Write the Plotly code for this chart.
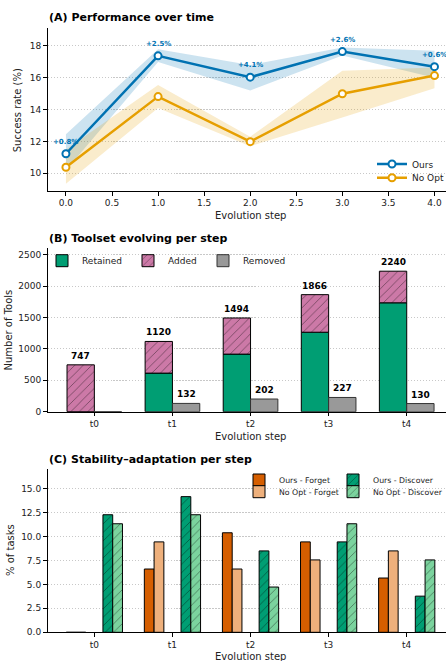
import plotly.graph_objects as go

# ---------------- data ----------------
steps = [0, 1, 2, 3, 4]
ours = [11.23, 17.38, 16.04, 17.65, 16.70]
ours_lo = [10.2, 17.0, 15.2, 17.4, 16.0]
ours_hi = [12.45, 17.8, 16.8, 17.9, 17.7]
noopt = [10.38, 14.82, 11.99, 15.0, 16.14]
noopt_lo = [9.35, 14.1, 11.7, 13.5, 15.35]
noopt_hi = [11.5, 15.55, 12.3, 16.45, 16.65]
gains = ["+0.8%", "+2.5%", "+4.1%", "+2.6%", "+0.6%"]

cats = ["t0", "t1", "t2", "t3", "t4"]
retained = [0, 615, 918, 1267, 1736]
added = [747, 505, 576, 599, 504]
removed = [0, 132, 202, 227, 130]

ours_forget = [0, 6.60, 10.38, 9.43, 5.66]
noopt_forget = [0, 9.43, 6.60, 7.55, 8.49]
ours_discover = [12.26, 14.15, 8.49, 9.43, 3.77]
noopt_discover = [11.32, 12.26, 4.72, 11.32, 7.55]

# ---------------- styling ----------------
W, H = 446, 661
FONT = "DejaVu Sans"
BLUE, ORANGE = "#0072B2", "#E69F00"
GREEN, PINK, GREY = "#009E73", "#CC79A7", "#999999"
DORANGE, LORANGE, LGREEN = "#D55E00", "#EEB07C", "#7BD39E"


def px(p):
    return p / W


def py(p):
    return 1 - p / H


fig = go.Figure()
legend_boxes = {}


def legend_slot(key, text_x, center_y, size=9):
    """One legend box per entry so entries can sit closer than Plotly's row height."""
    legend_boxes[key] = dict(x=px(text_x - 40), y=py(center_y), xanchor="left",
                             yanchor="middle", bgcolor="rgba(0,0,0,0)",
                             borderwidth=0,
                             font=dict(family=FONT, size=size, color="#222222"))
    return key


# ---- (A) performance over time ----
for lo, hi, col in [(ours_lo, ours_hi, "rgba(0,114,178,0.2)"),
                    (noopt_lo, noopt_hi, "rgba(230,159,0,0.2)")]:
    fig.add_trace(go.Scatter(
        x=steps + steps[::-1], y=hi + lo[::-1], fill="toself", fillcolor=col,
        line=dict(width=0), mode="lines", showlegend=False, hoverinfo="skip",
        xaxis="x", yaxis="y"))

for name, vals, col, leg in [("Ours", ours, BLUE, legend_slot("legend", 412, 164)),
                             ("No Opt", noopt, ORANGE, legend_slot("legend2", 412, 177.7))]:
    fig.add_trace(go.Scatter(
        x=steps, y=vals, name=name, mode="lines+markers",
        line=dict(color=col, width=2.5),
        marker=dict(symbol="circle", size=7, color="white",
                    line=dict(color=col, width=2)),
        xaxis="x", yaxis="y", legend=leg))

# ---- (B) toolset evolving ----
idx = list(range(len(cats)))
fig.add_trace(go.Bar(
    x=idx, y=retained, name="Retained", offset=-0.35, width=0.35,
    marker=dict(color=GREEN, line=dict(color="black", width=1)),
    xaxis="x2", yaxis="y2", legend=legend_slot("legend3", 82, 260.7)))
fig.add_trace(go.Bar(
    x=idx, y=added, base=retained, name="Added", offset=-0.35, width=0.35,
    marker=dict(color=PINK, line=dict(color="black", width=1),
                pattern=dict(shape="/", fgcolor="black", size=6, solidity=0.12)),
    xaxis="x2", yaxis="y2", legend=legend_slot("legend4", 168, 260.7)))
fig.add_trace(go.Bar(
    x=idx, y=removed, name="Removed", offset=0, width=0.35,
    marker=dict(color=GREY, line=dict(color="#333333", width=1)),
    xaxis="x2", yaxis="y2", legend=legend_slot("legend5", 243, 260.7)))

# ---- (C) stability-adaptation ----
series_c = [
    ("Ours - Forget", ours_forget, DORANGE, None, -0.36, 279, 480),
    ("No Opt - Forget", noopt_forget, LORANGE, None, -0.235, 279, 491.7),
    ("Ours - Discover", ours_discover, GREEN, "/", 0.11, 373, 480),
    ("No Opt - Discover", noopt_discover, LGREEN, "/", 0.235, 373, 491.7),
]
for k, (name, vals, col, hatch, off, lx, ly) in enumerate(series_c):
    mk = dict(color=col, line=dict(color="black", width=1))
    if hatch:
        mk["pattern"] = dict(shape=hatch, fgcolor="black", size=6, solidity=0.12)
    fig.add_trace(go.Bar(
        x=idx, y=vals, name=name, offset=off, width=0.125, marker=mk,
        xaxis="x3", yaxis="y3",
        legend=legend_slot("legend%d" % (6 + k), lx, ly, size=7.8)))

# ---------------- axes ----------------
axis_common = dict(showline=True, linecolor="black", linewidth=1, ticks="outside",
                   ticklen=3.5, tickwidth=1, tickcolor="black", zeroline=False,
                   tickfont=dict(family=FONT, size=9, color="#222222"))
ygrid = dict(showgrid=True, gridcolor="#c8c8c8", gridwidth=0.8,
             griddash="1.5px,1.5px")

xdom = [px(47.5), 1]
fig.update_layout(
    xaxis=dict(domain=xdom, range=[-0.2, 4.125], dtick=0.5, tickformat=".1f",
               showgrid=False, anchor="y", **axis_common),
    yaxis=dict(domain=[py(191), py(28)], range=[8.89, 19.13], dtick=2,
               anchor="x", **ygrid, **axis_common),
    xaxis2=dict(domain=xdom, range=[-0.6, 4.503], tickvals=idx, ticktext=cats,
                showgrid=False, anchor="y2", **axis_common),
    yaxis2=dict(domain=[py(411.7), py(248.3)], range=[0, 2605], dtick=500,
                anchor="x2", **ygrid, **axis_common),
    xaxis3=dict(domain=xdom, range=[-0.6, 4.503], tickvals=idx, ticktext=cats,
                showgrid=False, anchor="y3", **axis_common),
    yaxis3=dict(domain=[py(632.3), py(469.3)], range=[0, 17], dtick=2.5,
                tickformat=".1f", anchor="x3", **ygrid, **axis_common),
)
fig.update_layout(**legend_boxes)

# ---------------- text ----------------
ann = []
title_font = dict(family=FONT, size=11, color="black")
for text, yp in [("(A) Performance over time", 17.5),
                 ("(B) Toolset evolving per step", 238.3),
                 ("(C) Stability\u2013adaptation per step", 459)]:
    ann.append(dict(text="<b>" + text + "</b>", x=px(47), y=py(yp), xref="paper",
                    yref="paper", xanchor="left", yanchor="middle",
                    showarrow=False, font=title_font))

lab_font = dict(family=FONT, size=10, color="#222222")
for yp in [215.5, 436.7, 656.7]:
    ann.append(dict(text="Evolution step", x=px(250.5), y=py(yp), xref="paper",
                    yref="paper", xanchor="center", yanchor="middle",
                    showarrow=False, font=lab_font))
for text, xp, yp in [("Success rate (%)", 18.3, 110),
                     ("Number of Tools", 7.5, 330),
                     ("% of tasks", 10, 550)]:
    ann.append(dict(text=text, x=px(xp), y=py(yp), xref="paper", yref="paper",
                    xanchor="center", yanchor="middle", textangle=-90,
                    showarrow=False, font=lab_font))

# gain labels above the "Ours" curve
for s, v, g in zip(steps, ours, gains):
    ann.append(dict(text="<b>" + g + "</b>", x=s, y=v, xref="x", yref="y",
                    yshift=12, showarrow=False, xanchor="center",
                    yanchor="middle",
                    font=dict(family=FONT, size=7, color=BLUE)))

# totals and removals above the bars
val_font = dict(family=FONT, size=9, color="black")
for i in idx:
    total = retained[i] + added[i]
    ann.append(dict(text="<b>%d</b>" % total, x=i - 0.175, y=total, xref="x2",
                    yref="y2", yanchor="bottom", yshift=2, showarrow=False,
                    font=val_font))
    if removed[i] > 0:
        ann.append(dict(text="<b>%d</b>" % removed[i], x=i + 0.175,
                        y=removed[i], xref="x2", yref="y2", yanchor="bottom",
                        yshift=2, showarrow=False, font=val_font))

fig.update_layout(
    annotations=ann,
    barmode="overlay",
    width=W, height=H,
    margin=dict(l=0, r=0, t=0, b=0, autoexpand=False),
    paper_bgcolor="white", plot_bgcolor="white",
    font=dict(family=FONT, size=9, color="#222222"),
)

fig.write_html("out.html", config={"displayModeBar": False})
